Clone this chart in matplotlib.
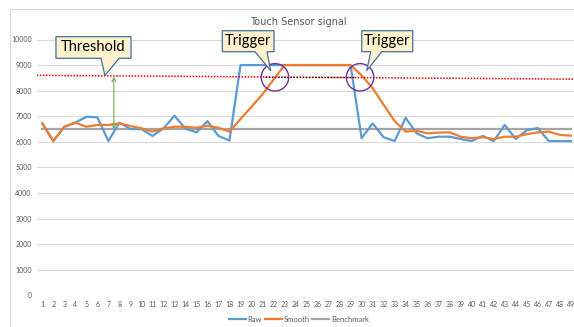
import numpy as np
import matplotlib.pyplot as plt
from matplotlib.patches import Polygon, Ellipse
from matplotlib.lines import Line2D

samples = list(range(1, 50))

raw = [6720, 6030, 6590, 6750, 6980, 6960, 6030, 6750, 6500, 6500,
       6230, 6520, 7020, 6520, 6370, 6810, 6230, 6050, 9000, 9000,
       9000, 9000, 9000, 9000, 9000, 9000, 9000, 9000, 9000, 6140,
       6720, 6180, 6030, 6940, 6330, 6140, 6200, 6200, 6110, 6030,
       6230, 6030, 6660, 6110, 6450, 6540, 6030, 6030, 6030]

smooth = [6720, 6030, 6590, 6750, 6590, 6660, 6660, 6720, 6620, 6530,
          6400, 6530, 6590, 6590, 6550, 6630, 6550, 6400, 6890, 7370,
          7860, 8430, 9000, 9000, 9000, 9000, 9000, 9000, 9000, 8600,
          8100, 7450, 6810, 6400, 6430, 6330, 6360, 6370, 6200, 6140,
          6180, 6110, 6200, 6200, 6300, 6370, 6400, 6270, 6240]

benchmark = [6500] * 49

# hand-drawn threshold guide (start / end of the dotted line)
threshold_x = [0.5, 49.5]
threshold_y = [8600, 8450]
trigger_level = 8530
trigger_span = [21.2, 29.4]
trigger_points = [22.13, 29.86]

title = "Touch Sensor signal"

blue = "#5B9BD5"
orange = "#ED7D31"
grey = "#A5A5A5"
text_grey = "#595959"

fig = plt.figure(figsize=(5.74, 3.27), dpi=100)
ax = fig.add_axes([36.8 / 574, 1 - 295.3 / 327, 539.5 / 574, 255.8 / 327])

ax.plot(samples, raw, color=blue, lw=1.6, label="Raw", zorder=3)
ax.plot(samples, smooth, color=orange, lw=1.6, label="Smooth", zorder=4)
ax.plot(samples, benchmark, color=grey, lw=1.6, label="Benchmark", zorder=2)

ax.plot(threshold_x, threshold_y, color="#FF0000", lw=1.1, ls=(0, (1, 1)), zorder=5)
ax.plot(trigger_span, [trigger_level] * 2, color="black", lw=0.9, ls=(0, (1, 1.5)), zorder=6)

ax.set_xlim(0.5, 49.5)
ax.set_ylim(0, 10000)
ax.set_xticks(samples)
ax.set_xticklabels([str(s) for s in samples])
ax.set_yticks(range(0, 10001, 1000))
ax.tick_params(length=0, labelsize=5, labelcolor=text_grey)
ax.tick_params(axis="y", pad=3.6)
ax.tick_params(axis="x", pad=4)
for lab in ax.get_xticklabels() + ax.get_yticklabels():
    lab.set_fontfamily("Lato")
for s in ax.spines.values():
    s.set_visible(False)
ax.grid(axis="y", color="#D9D9D9", lw=0.8)
ax.set_axisbelow(True)


def callout(ax, x0, x1, y0, y1, b0, b1, tip, text):
    # box with a wedge pointer on its bottom edge
    pts = [(x0, y1), (x1, y1), (x1, y0), (b1, y0), tip, (b0, y0), (x0, y0)]
    ax.add_patch(Polygon(pts, closed=True, fc="#FFF2CC", ec="#41719C",
                         lw=0.9, clip_on=False, zorder=8))
    ax.text((x0 + x1) / 2, (y0 + y1) / 2, text, ha="center", va="center",
            fontsize=10.5, family="Lato", color="black", zorder=9, clip_on=False)


callout(ax, 2.24, 9.06, 9265, 10110, 6.33, 7.97, (6.69, 8590), "Threshold")
callout(ax, 17.35, 22.04, 9523, 10344, 20.32, 21.41, (21.74, 8780), "Trigger")
callout(ax, 30.01, 34.64, 9523, 10344, 30.83, 31.83, (30.46, 8780), "Trigger")

for cx in trigger_points:
    ax.add_patch(Ellipse((cx, 8522), 2.49, 1071, fill=False, ec="#7030A0",
                         lw=1.0, zorder=7))

ax.annotate("", xy=(7.5, 8550), xytext=(7.5, 6500),
            arrowprops=dict(arrowstyle="<->", color="#70AD47", lw=0.8,
                            mutation_scale=7, shrinkA=0, shrinkB=0), zorder=6)

fig.text(298 / 574, 1 - 22 / 327, title, ha="center", va="center",
         fontsize=7, color=text_grey, family="DejaVu Sans")

leg = fig.legend(loc="center", bbox_to_anchor=(299 / 574, 1 - 319 / 327),
                 ncol=3, frameon=False, handlelength=2.2, handletextpad=0.25,
                 columnspacing=0.35, prop={"family": "Lato", "size": 5.5})
for t in leg.get_texts():
    t.set_color(text_grey)

# chart area border
fig.add_artist(Line2D([10 / 574, 10 / 574], [0, 1 - 9 / 327], color="#D9D9D9", lw=0.8))
fig.add_artist(Line2D([10 / 574, 1], [1 - 9 / 327, 1 - 9 / 327], color="#D9D9D9", lw=0.8))

fig.savefig("out.png", dpi=100)
